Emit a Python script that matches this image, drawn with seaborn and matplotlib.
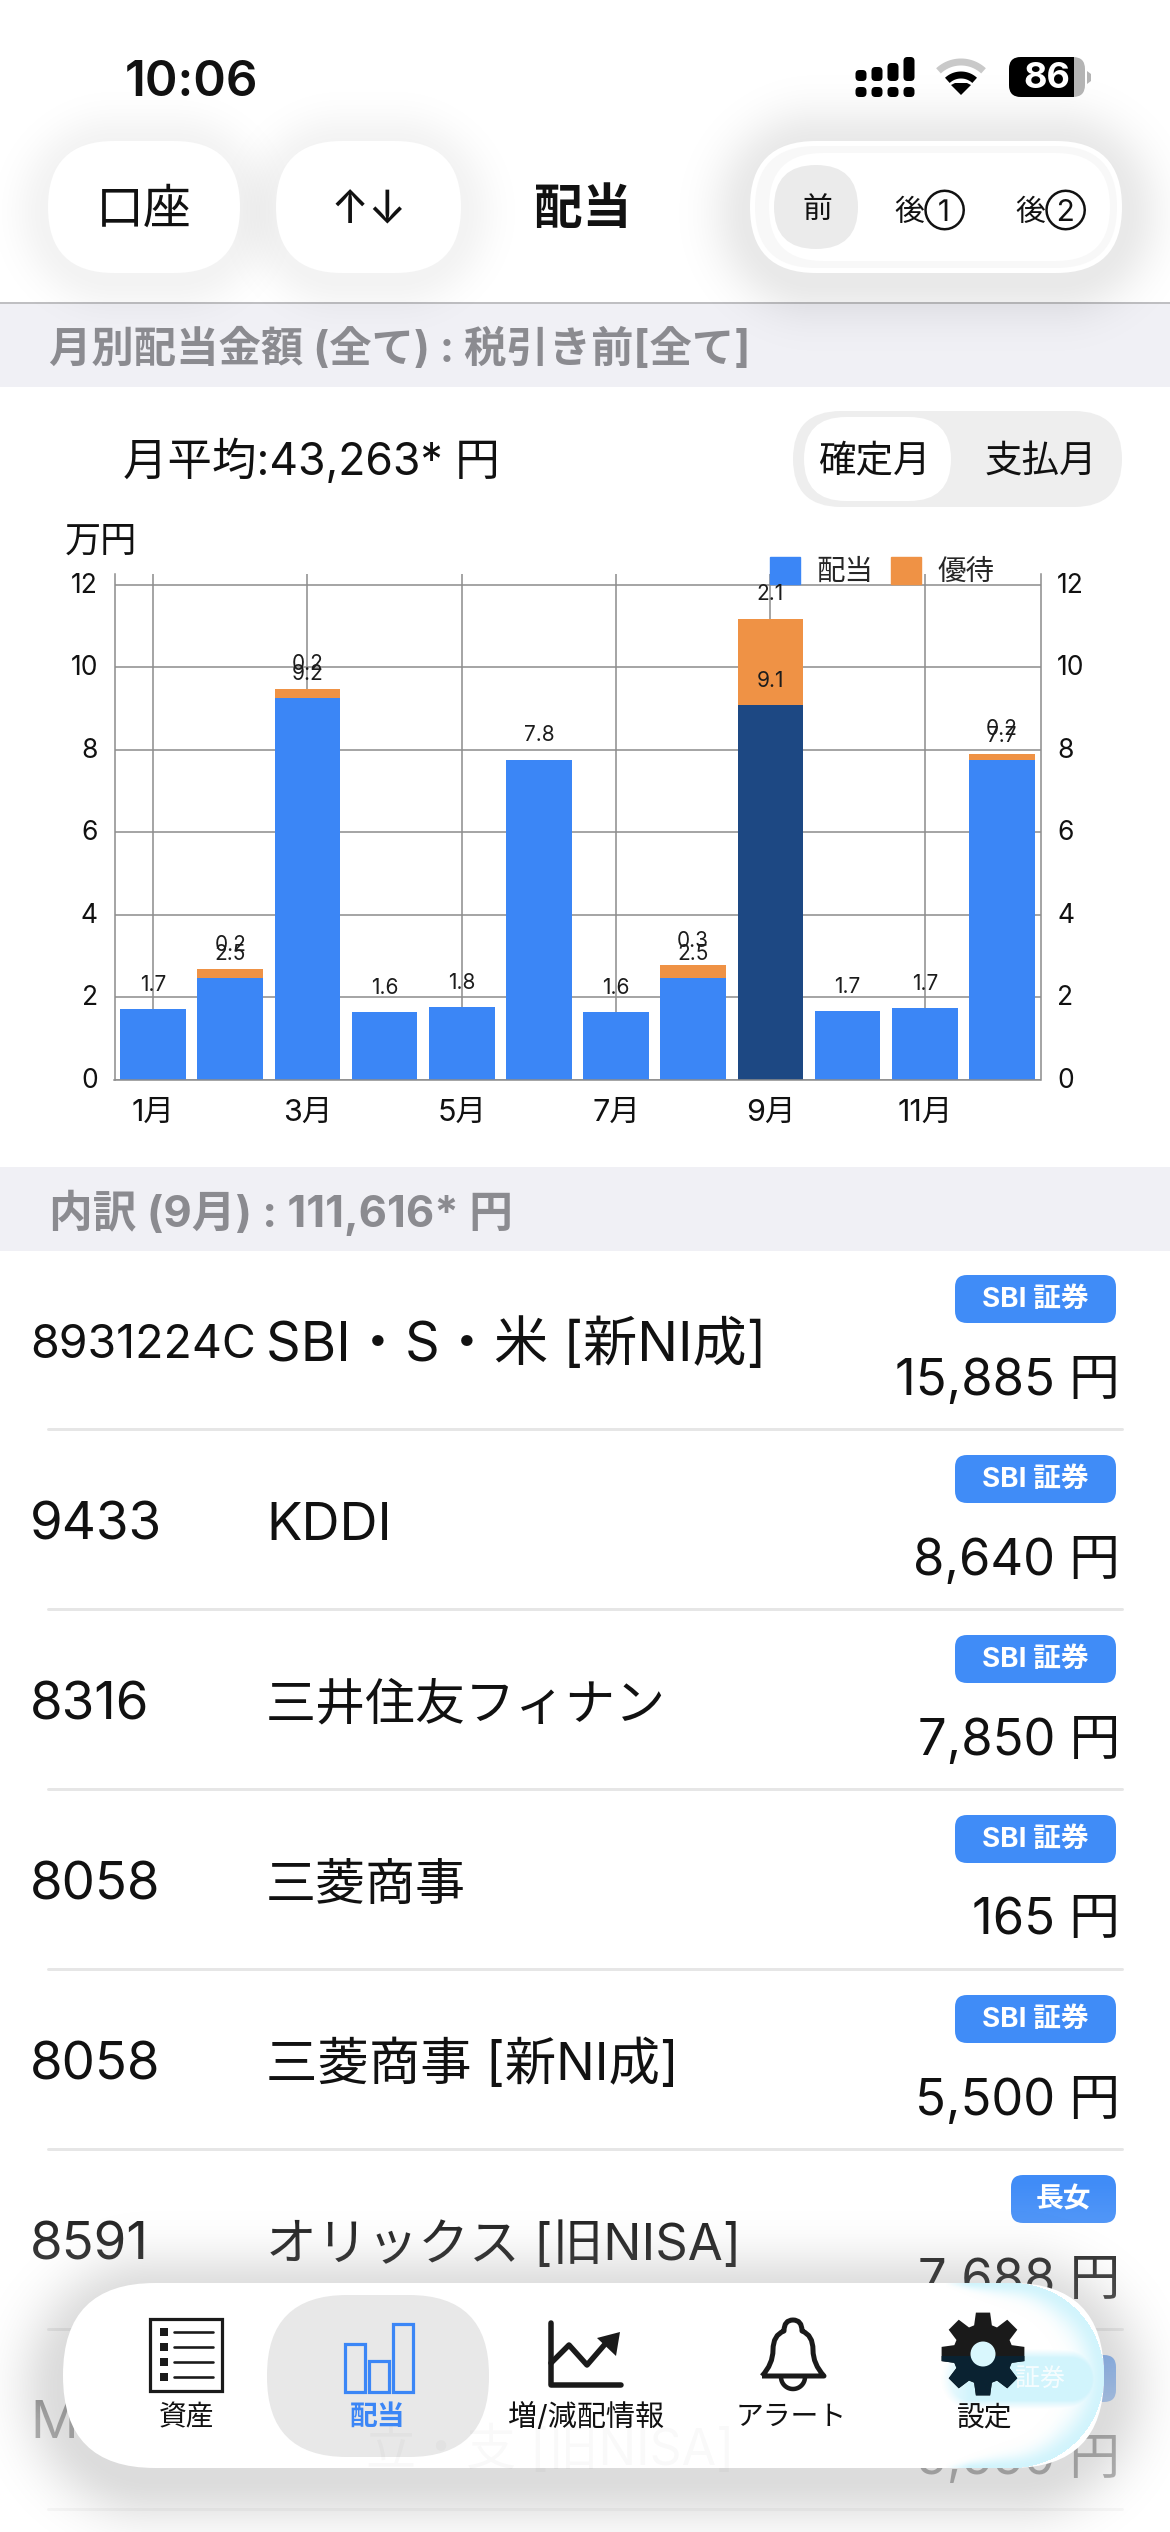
import numpy as np
import pandas as pd
import matplotlib
matplotlib.use('Agg')
import matplotlib.pyplot as plt
import seaborn as sns
from matplotlib.patches import FancyBboxPatch, Rectangle, Polygon, PathPatch, Circle, Patch
from matplotlib.path import Path
from matplotlib.transforms import ScaledTranslation

# chart data
months = ['1月', '2月', '3月', '4月', '5月', '6月', '7月', '8月', '9月', '10月', '11月', '12月']
haito = [1.71, 2.46, 9.24, 1.64, 1.75, 7.76, 1.64, 2.46, 9.07, 1.66, 1.73, 7.74]
yutai = [0, 0.21, 0.24, 0, 0, 0, 0, 0.31, 2.10, 0, 0, 0.16]
selected_month = '9月'
y_ticks = [0, 2, 4, 6, 8, 10, 12]

# list rows
codes = ['8931224C', '9433', '8316', '8058', '8058', '8591']
names = ['SBI・S・米 [新NI成]', 'KDDI', '三井住友フィナン', '三菱商事', '三菱商事 [新NI成]', 'オリックス [旧NISA]']
name_sizes = [39, 38, 36, 36, 37, 36.5]
badges = ['SBI 証券', 'SBI 証券', 'SBI 証券', 'SBI 証券', 'SBI 証券', '長女']
amounts = ['15,885 円', '8,640 円', '7,850 円', '165 円', '5,500 円', '7,688 円']
nav_labels = ['資産', '配当', '増/減配情報', 'アラート', '設定']

BLUE = '#3b86f6'
DARK = '#1d4883'
ORANGE = '#ef9245'
BAND = '#f0f0f5'
GRAY_TEXT = '#8b8b90'
BADGE = '#408cf7'
INK = '#111111'
GRID = '#8c8c8c'

sns.set_theme(style='white')
plt.rcParams['font.family'] = ['Inter', 'Noto Sans CJK JP', 'DejaVu Sans']

W, H = 1170, 2532
fig = plt.figure(figsize=(W / 100, H / 100), dpi=100, facecolor='white')
ui = fig.add_axes([0, 0, 1, 1], zorder=1)
ui.set_xlim(0, W)
ui.set_ylim(H, 0)
ui.axis('off')


def px(v):
    return v * 0.72


def txt(x, y, s, size, color=INK, ha='center', weight='normal', z=5, **kw):
    # +3: matplotlib centres on the text box, the glyphs sit a bit higher
    return ui.text(x, y + 3, s, fontsize=size, color=color, ha=ha, va='center', fontweight=weight, zorder=z, **kw)


def rrect(x0, y0, x1, y1, r, color, z=2, **kw):
    p = FancyBboxPatch((x0, y0), x1 - x0, y1 - y0, boxstyle=f'round,pad=0,rounding_size={r}',
                       facecolor=color, edgecolor='none', zorder=z, **kw)
    ui.add_patch(p)
    return p


yy, xx = np.mgrid[0:H, 0:W]


def sdf(x0, y0, x1, y1, r):
    cx, cy = (x0 + x1) / 2, (y0 + y1) / 2
    qx = np.abs(xx + 0.5 - cx) - (x1 - x0) / 2 + r
    qy = np.abs(yy + 0.5 - cy) - (y1 - y0) / 2 + r
    return np.hypot(np.maximum(qx, 0), np.maximum(qy, 0)) + np.minimum(np.maximum(qx, qy), 0) - r


def overlay(rgb, alpha, z):
    img = np.ones((H, W, 4))
    img[..., :3] = matplotlib.colors.to_rgb(rgb)
    img[..., 3] = alpha
    ui.imshow(img, extent=(0, W, H, 0), aspect='auto', zorder=z, interpolation='nearest')


def shadow(x0, y0, x1, y1, r, sigma, a, z=1):
    d = sdf(x0, y0, x1, y1, r)
    overlay('black', a * np.exp(-(np.maximum(d, 0) / sigma) ** 2), z)


# section bands
ui.add_patch(Rectangle((0, 304), W, 83, color=BAND, lw=0, zorder=0.5))
ui.add_patch(Rectangle((0, 1167), W, 84, color=BAND, lw=0, zorder=0.5))
ui.plot([0, W], [303, 303], color='#b0b0b4', lw=px(1.6), zorder=0.6)

# header
shadow(48, 146, 240, 278, 66, 34, 0.05)
shadow(276, 146, 461, 278, 66, 34, 0.05)
shadow(750, 146, 1122, 280, 66, 40, 0.09)
rrect(48, 141, 240, 273, 66, 'white')
rrect(276, 141, 461, 273, 66, 'white')
rrect(750, 141, 1122, 273, 66, 'white')
rrect(755, 146, 1117, 268, 61, '#f8f8f8', z=2.1)
rrect(769, 153, 1110, 261, 54, 'white', z=2.2)
rrect(774, 165, 858, 249, 42, '#ebebeb', z=2.3)
txt(144, 208, '口座', 34.5)
txt(369, 208, '↑↓', 33)
txt(583, 208, '配当', 35, weight='bold')
txt(817, 207, '前', 21.5)
txt(930, 207, '後①', 21.5)
txt(1051, 207, '後②', 21.5)

# status bar
txt(125, 80, '10:06', 35.5, ha='left', weight='semibold')
for sx, top in zip([861, 877, 893, 909], [70, 67, 63, 57]):
    rrect(sx - 5.5, 87, sx + 5.5, 97, 4, 'black', z=3)
    rrect(sx - 5.5, top, sx + 5.5, 81, 4, 'black', z=3)
wifi_t = np.radians(np.linspace(-43, 43, 40))
for rad, col in [(33, '#c9c9c9'), (20, 'black')]:
    ui.plot(961 + rad * np.sin(wifi_t), 95 - rad * np.cos(wifi_t), color=col, lw=px(7), solid_capstyle='butt', zorder=3)
ui.add_patch(Polygon([(961, 95), (951, 85), (955, 83), (967, 83), (971, 85)], color='black', lw=0, zorder=3))
batt = rrect(1009, 57, 1085, 97, 12, '#b4b4b4', z=3)
black = Rectangle((1009, 57), 65, 40, color='black', lw=0, zorder=3.1)
ui.add_patch(black)
black.set_clip_path(batt)
ui.add_patch(Polygon([(1087, 71), (1091, 74), (1091, 81), (1087, 84)], color='#b4b4b4', lw=0, zorder=3))
txt(1047, 75, '86', 26, color='white', weight='bold')

# section texts
txt(49, 347, '月別配当金額 (全て) : 税引き前[全て]', 30.5, color=GRAY_TEXT, ha='left', weight='bold')
txt(49, 1210, '内訳 (9月) : 111,616* 円', 31.5, color=GRAY_TEXT, ha='left', weight='bold')
txt(123, 458, '月平均:43,263* 円', 32, ha='left')
rrect(793, 411, 1122, 507, 48, '#eeeeee')
rrect(804, 417, 951, 501, 42, 'white', z=2.1)
txt(874, 459, '確定月', 27)
txt(1041, 459, '支払月', 27)
txt(65, 539, '万円', 26, ha='left')

# monthly chart
ax = fig.add_axes([114.5 / W, (H - 1079.6) / H, 926 / W, 506.1 / H], zorder=2)
ax.patch.set_alpha(0)
df = pd.DataFrame({'month': months, 'haito': haito, 'yutai': yutai})
df['total'] = df['haito'] + df['yutai']
bar_colors = {m: (DARK if m == selected_month else BLUE) for m in months}
sns.barplot(data=df, x='month', y='total', color=ORANGE, saturation=1, width=0.85, errorbar=None,
            linewidth=0, edgecolor='none', ax=ax)
sns.barplot(data=df, x='month', y='haito', hue='month', palette=bar_colors, legend=False, saturation=1,
            width=0.85, errorbar=None, linewidth=0, edgecolor='none', ax=ax)
ax.set_xlim(-0.5, 11.5)
ax.set_ylim(0, 12.27)
ax.set_yticks(y_ticks)
ax.set_xticks(range(0, 12, 2))
ax.set_xticklabels(months[::2])
ax.set_xlabel('')
ax.set_ylabel('')
ax.set_axisbelow(True)
ax.grid(True, color=GRID, lw=1.1)
ax.tick_params(axis='y', length=0, pad=12, labelsize=19, labelright=True, labelleft=True, colors=INK)
ax.tick_params(axis='x', length=0, pad=14, labelsize=22, colors=INK)
for side in ['left', 'right', 'bottom']:
    ax.spines[side].set_color(GRID)
    ax.spines[side].set_linewidth(1.1)
ax.spines['top'].set_visible(False)

# the app draws its y labels a little above the grid lines
nudge = ScaledTranslation(0, 0.02, fig.dpi_scale_trans)
for tick in ax.yaxis.get_major_ticks():
    tick.label1.set_transform(tick.label1.get_transform() + nudge)
    tick.label2.set_transform(tick.label2.get_transform() + nudge)

for i, (h, t) in enumerate(zip(haito, yutai)):
    ax.annotate(f'{h:.1f}', (i, h), xytext=(0, 17.6), textcoords='offset points', ha='center', va='center',
                fontsize=15, color='#1c1c1c', zorder=6, annotation_clip=False)
    if t > 0:
        ax.annotate(f'{t:.1f}', (i, h + t), xytext=(0, 17.6), textcoords='offset points', ha='center', va='center',
                    fontsize=15, color='#1c1c1c', zorder=6, annotation_clip=False)

handles = [Patch(color=BLUE, label='配当'), Patch(color=ORANGE, label='優待')]
leg = ax.legend(handles=handles, ncol=2, frameon=False, fontsize=20.5, loc='lower right',
                bbox_to_anchor=(0.950, 0.975), borderaxespad=0, borderpad=0, handlelength=1.05,
                handleheight=1.05, handletextpad=0.58, columnspacing=0.62)

# list rows
PITCH = 180
for i, (code, name, size_n, badge, amount) in enumerate(zip(codes, names, name_sizes, badges, amounts)):
    off = PITCH * i
    size = 33.5 if len(code) > 6 else 38
    txt(30, 1343 + off, code, size, ha='left', z=3)
    txt(266, 1343 + off, name, size_n, ha='left', z=3)
    x0 = 1011 if badge == '長女' else 955
    rrect(x0, 1275 + off, 1116, 1323 + off, 12, BADGE)
    txt((x0 + 1116) / 2, 1297 + off, badge, 20, color='white', weight='bold', z=3)
    txt(1120, 1378 + off, amount, 36.5, ha='right', z=3)
    ui.plot([48, 1122], [1429 + off, 1429 + off], color='#e6e6e6', lw=px(3), zorder=1.5)

# row hidden behind the tab bar
txt(30, 2421, 'M', 38, ha='left', z=3)
rrect(955, 2355, 1116, 2402, 12, BADGE)
txt(1120, 2457, '5,550 円', 36.5, ha='right', z=3)
ui.plot([48, 1122], [2509, 2509], color='#e6e6e6', lw=px(3), zorder=1.5)

# fade toward the bottom
overlay('white', np.interp(yy, [2180, 2290, 2420, 2532], [0, 0.25, 0.7, 0.7]), 3.5)

# tab bar
shadow(63, 2298, 1104, 2478, 90, 46, 0.14, z=3.6)
rrect(63, 2283, 1104, 2468, 92, 'white', z=4)
rrect(267, 2295, 489, 2457, 80, '#e8e8e8', z=4.1)
txt(550, 2447, '立・支 [旧NISA]', 36, color='#000000', alpha=0.025, z=4.15)

# glass glare at the right end, masked to the pill
pill = sdf(63, 2283, 1104, 2468, 92)
ramp = np.clip((xx - 950) / 110, 0, 1)
glow = 0.85 * np.exp(-(np.maximum(-pill, 0) / (3 + 17 * ramp)) ** 2) * np.clip((xx - 945) / 25, 0, 1)
band = sdf(950, 2358, 1092, 2400, 20)
glow = np.maximum(glow, 0.85 * np.clip(1 - band / 9, 0, 1) * np.clip((xx - 930) / 40, 0, 1))
glow[pill > 0] = 0
overlay('#c9f2fc', glow, 4.2)
txt(1040, 2376, '証券', 18, color='white', alpha=0.8, z=4.25)

ICON = '#1a1a1a'
# list icon
ui.add_patch(Rectangle((150, 2319), 72, 72, fill=False, edgecolor=ICON, lw=px(3.2), zorder=5))
for ly in [2332, 2347, 2362, 2377]:
    ui.add_patch(Rectangle((160, ly - 4), 8, 8, color=ICON, lw=0, zorder=5))
    ui.plot([174, 213], [ly, ly], color=ICON, lw=px(2.6), zorder=5)
# bars icon
for bx, by in [(345, 2344), (369, 2361), (393, 2324)]:
    ui.add_patch(Rectangle((bx, by), 20, 2392 - by, fill=False, edgecolor=BLUE, lw=px(3.2), zorder=5))
# trend icon
ui.plot([551, 551, 621], [2323, 2385, 2385], color=ICON, lw=px(5.5), zorder=5, solid_joinstyle='round', solid_capstyle='round')
ui.plot([551, 569, 587, 606], [2363, 2345, 2365, 2343], color=ICON, lw=px(5.5), zorder=5)
ui.add_patch(Polygon([(620, 2332), (597, 2338), (616, 2356)], color=ICON, lw=0, zorder=5))
# bell icon
bc = 793
bell = Path([(bc - 31, 2376), (bc - 20, 2364), (bc - 20, 2350), (bc - 20, 2335), (bc - 9, 2331),
             (bc - 9, 2320), (bc, 2320), (bc + 9, 2320), (bc + 9, 2331),
             (bc + 20, 2335), (bc + 20, 2350), (bc + 20, 2364), (bc + 31, 2376), (bc - 31, 2376)],
            [Path.MOVETO, Path.CURVE3, Path.CURVE3, Path.CURVE3, Path.CURVE3,
             Path.CURVE3, Path.CURVE3, Path.CURVE3, Path.CURVE3,
             Path.CURVE3, Path.CURVE3, Path.CURVE3, Path.CURVE3, Path.LINETO])
ui.add_patch(PathPatch(bell, fill=False, edgecolor=ICON, lw=px(5), joinstyle='round', zorder=5))
clap = np.linspace(0, np.pi, 30)
ui.plot(bc + 12 * np.cos(clap), 2377 + 12 * np.sin(clap), color=ICON, lw=px(4.5), zorder=5)
# gear icon
gx, gy = 983, 2354
ang, rad = [], []
for k in range(8):
    c = k * np.pi / 4 - np.pi / 2
    ang += [c - 0.30, c - 0.17, c + 0.17, c + 0.30]
    rad += [30, 42, 42, 30]
ang = np.array(ang)
rad = np.array(rad)
gear_xy = np.c_[gx + rad * np.cos(ang), gy + rad * np.sin(ang)]
gear = Polygon(gear_xy, color=ICON, lw=0, zorder=5)
ui.add_patch(gear)
low = Polygon(gear_xy, color='#0a2231', lw=0, zorder=5.1)
ui.add_patch(low)
low.set_clip_path(Rectangle((gx - 50, gy + 2), 100, 46, transform=ui.transData))
ui.add_patch(Circle((gx, gy), 12.5, color='#d9f7fd', lw=0, zorder=5.2))

for nx, label, col, wt, fs in zip([187, 378, 586, 791, 985], nav_labels, [INK, BLUE, INK, INK, INK],
                                  ['normal', 'bold', 'normal', 'normal', 'normal'], [20, 20, 21, 20, 20]):
    txt(nx, 2415, label, fs, color=col, weight=wt, z=6)

fig.savefig('out.png', dpi=100, facecolor='white')
